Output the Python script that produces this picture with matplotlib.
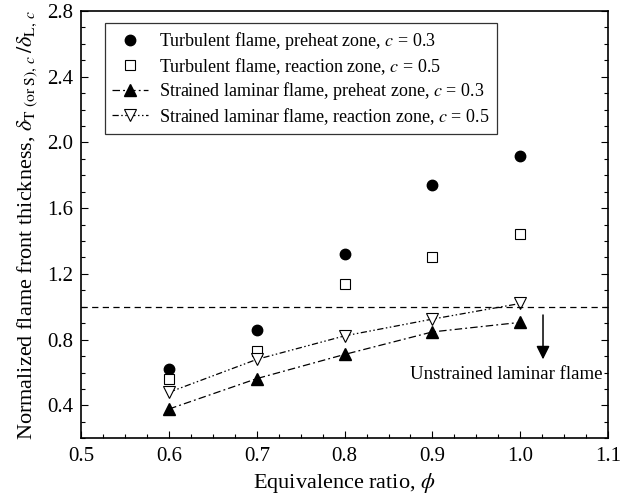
import numpy as np
import matplotlib.pyplot as plt
from matplotlib.ticker import MultipleLocator

plt.rcParams['font.family'] = ['Liberation Serif', 'DejaVu Serif']
plt.rcParams['mathtext.fontset'] = 'stix'

phi = [0.6, 0.7, 0.8, 0.9, 1.0]
turb_preheat = [0.62, 0.86, 1.32, 1.74, 1.92]
turb_reaction = [0.56, 0.73, 1.14, 1.305, 1.445]
lam_preheat = [0.378, 0.563, 0.71, 0.847, 0.905]
lam_reaction = [0.48, 0.68, 0.823, 0.925, 1.02]
unstrained = 1.0

fig = plt.figure(figsize=(6.21, 4.98), dpi=100)
ax = fig.add_axes([0.131, 0.120, 0.848, 0.858])

ax.plot(phi, turb_preheat, 'o', color='black', ms=7.5, ls='none',
        label=r'Turbulent flame, preheat zone, $c$ = 0.3')
ax.plot(phi, turb_reaction, 's', mfc='white', mec='black', ms=7, mew=0.8, ls='none',
        label=r'Turbulent flame, reaction zone, $c$ = 0.5')
ax.plot(phi, lam_preheat, '^', color='black', ms=9, lw=0.9,
        dashes=(6, 2.5, 1.5, 2.5),
        label=r'Strained laminar flame, preheat zone, $c$ = 0.3')
ax.plot(phi, lam_reaction, 'v', color='black', mfc='white', ms=9, mew=0.8, lw=0.9,
        dashes=(5, 2, 1.2, 2, 1.2, 2),
        label=r'Strained laminar flame, reaction zone, $c$ = 0.5')

ax.axhline(unstrained, color='black', lw=0.9, dashes=(5, 3.5))
ax.annotate('', xy=(1.026, 0.68), xytext=(1.026, 0.95),
            arrowprops=dict(arrowstyle='-|>', color='black', lw=1.1,
                            mutation_scale=20, shrinkA=0, shrinkB=0))
ax.text(1.094, 0.59, 'Unstrained laminar flame', ha='right', va='center', fontsize=13.5)

ax.set_xlim(0.5, 1.1)
ax.set_ylim(0.2, 2.8)
ax.xaxis.set_major_locator(MultipleLocator(0.1))
ax.xaxis.set_minor_locator(MultipleLocator(0.025))
ax.yaxis.set_minor_locator(MultipleLocator(0.1))
ax.set_yticks(np.arange(0.4, 2.81, 0.4))
ax.xaxis.set_major_formatter(plt.FormatStrFormatter('%.1f'))
ax.yaxis.set_major_formatter(plt.FormatStrFormatter('%.1f'))
ax.tick_params(which='both', direction='in', labelsize=15, top=False, right=True)
ax.tick_params(which='major', length=5, width=0.8, pad=6)
ax.tick_params(which='minor', length=3, width=0.8)
for s in ax.spines.values():
    s.set_linewidth(1.2)

ax.set_xlabel(r'Equivalence ratio, $\phi$', fontsize=16)
ax.set_ylabel(r'Normalized flame front thickness, $\delta_{\mathrm{T\ (or\ S)},\,c}\,/\delta_{\mathrm{L},\,c}$',
              fontsize=16, labelpad=5)

leg = ax.legend(loc='upper left', bbox_to_anchor=(0.045, 0.972), borderaxespad=0,
                fontsize=13, frameon=True, fancybox=False, edgecolor='black',
                handlelength=2.0, handletextpad=0.6, labelspacing=0.2,
                borderpad=0.4)
leg.get_frame().set_linewidth(0.9)

fig.savefig('out.png', dpi=100)
